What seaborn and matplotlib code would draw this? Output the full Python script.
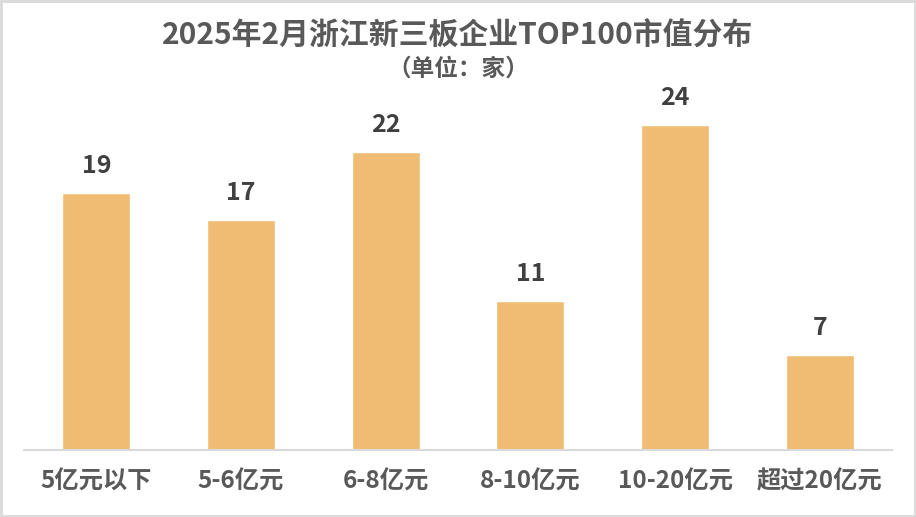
import matplotlib
matplotlib.use("Agg")
import matplotlib.pyplot as plt
import seaborn as sns
import pandas as pd

# --- data ---
categories = ["5亿元以下", "5-6亿元", "6-8亿元", "8-10亿元", "10-20亿元", "超过20亿元"]
counts = [19, 17, 22, 11, 24, 7]

title = "2025年2月浙江新三板企业TOP100市值分布"
subtitle = "（单位：家）"

BAR_COLOR = "#F0BC74"
TEXT_COLOR = "#595959"

sns.set_style("white")
plt.rcParams["font.family"] = ["Noto Sans CJK SC", "DejaVu Sans"]

df = pd.DataFrame({"range": categories, "count": counts})

fig = plt.figure(figsize=(9.16, 5.17), dpi=100)
ax = fig.add_axes([0.0262, 0.1296, 0.9476, 0.7853])

sns.barplot(data=df, x="range", y="count", color=BAR_COLOR, saturation=1,
            width=0.47, ax=ax)

ax.set_xlim(-0.5, len(categories) - 0.5)
ax.set_ylim(0, 30)
ax.set_xlabel("")
ax.set_ylabel("")
ax.set_yticks([])
for s in ["top", "right", "left"]:
    ax.spines[s].set_visible(False)
ax.spines["bottom"].set_color("#D9D9D9")
ax.spines["bottom"].set_linewidth(1.5)
ax.tick_params(axis="x", length=0, pad=14)
for lbl in ax.get_xticklabels():
    lbl.set_fontsize(17.5)
    lbl.set_fontweight("bold")
    lbl.set_color(TEXT_COLOR)

# value labels
for container in ax.containers:
    ax.bar_label(container, padding=11, fontsize=18, fontweight="bold",
                 color="#404040")

fig.text(0.5, 0.932, title, ha="center", va="center", fontsize=21.5,
         fontweight="bold", color=TEXT_COLOR)
fig.text(0.5, 0.868, subtitle, ha="center", va="center", fontsize=17,
         fontweight="bold", color=TEXT_COLOR)

# outer border
fig.patches.append(plt.Rectangle((0.001, 0.001), 0.998, 0.998, transform=fig.transFigure,
                                 fill=False, edgecolor="#D9D9D9", linewidth=2))

fig.savefig("out.png", dpi=100, facecolor="white")
